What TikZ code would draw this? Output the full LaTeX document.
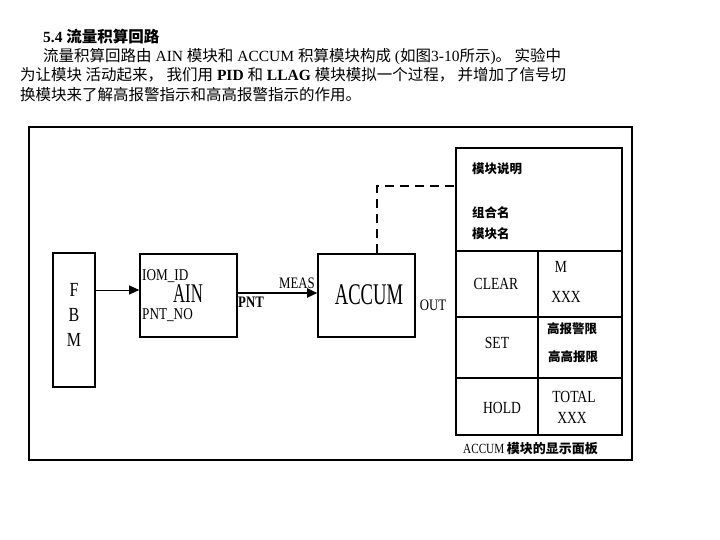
\documentclass[tikz,border=0pt]{standalone}
\usepackage{fontspec}
\usetikzlibrary{arrows.meta}
\setmainfont{Liberation Serif}
\newfontfamily\zh{Noto Sans CJK SC}
\newfontfamily\labfont[FakeStretch=0.8]{Liberation Serif}
\newfontfamily\accfont[FakeStretch=0.62]{Liberation Serif}
\tikzset{
  txt/.style={anchor=base west, inner sep=0pt, font=\fontsize{15.5}{18}\selectfont},
  blk/.style={draw, line width=1.6pt, inner sep=0pt},
  frame/.style={line width=2.6pt},
  lab/.style={inner sep=0pt, font=\labfont\fontsize{16.5}{18}\selectfont},
  biglab/.style={inner sep=0pt, font=\accfont\fontsize{30}{32}\selectfont},
  cell/.style={inner sep=0pt, font=\labfont\fontsize{17}{18}\selectfont},
  zhcell/.style={inner sep=0pt, font=\zh\bfseries\fontsize{12.5}{14}\selectfont},
  sig/.style={-{Triangle[length=10pt,width=9pt]}, line width=0.8pt},
  dashline/.style={line width=1.8pt, dash pattern=on 9pt off 6pt},
}

\begin{document}
\begin{tikzpicture}[x=1pt, y=-1pt]
\useasboundingbox (0,0) rectangle (720,540);

%% ---- header text -------------------------------------------------------
\node[txt, font=\bfseries\fontsize{15.5}{18}\selectfont] (title) at (43,43)
  {5.4 {\zh\bfseries 流量积算回路}};
\node[txt] (line1) at (43,62)
  {{\zh 流量积算回路由} AIN {\zh 模块和} ACCUM {\zh 积算模块构成} ({\zh 如图}3-10{\zh 所示}){\zh 。 实验中}};
\node[txt] (line2) at (20,81)
  {{\zh 为让模块 活动起来， 我们用} \textbf{PID} {\zh 和} \textbf{LLAG} {\zh 模块模拟一个过程， 并增加了信号切}};
\node[txt] (line3) at (20,101)
  {{\zh 换模块来了解高报警指示和高高报警指示的作用。}};

%% ---- outer frame -------------------------------------------------------
\draw[frame] (29,127) rectangle (632,460);

%% ---- blocks ------------------------------------------------------------
\node[blk, minimum width=42pt, minimum height=134pt] (fbm) at (74,320) {};
\node[align=center, inner sep=0pt, font=\labfont\fontsize{20}{25}\selectfont]
  (fbmtxt) at (74,315) {F\\B\\M};
\node[blk, minimum width=97pt, minimum height=83pt] (ain) at (188.5,295.5) {};
\node[blk, minimum width=97pt, minimum height=83pt] (accum) at (366.5,295.5) {};

\node[lab, anchor=west] (iomid) at (142,276) {IOM\_ID};
\node[biglab, font=\accfont\fontsize{27}{30}\selectfont] (aintxt) at (188,294) {AIN};
\node[lab, anchor=west] (pntno) at (142,315) {PNT\_NO};
\node[biglab] (acctxt) at (369,295) {ACCUM};

% signal links
\draw[sig] ([yshift=30pt]fbm.east) -- ([yshift=30pt]fbm.east -| ain.west);
\draw[sig, line width=2pt] ([yshift=2.5pt]ain.east) -- ([yshift=2.5pt]ain.east -| accum.west);
\node[lab, font=\labfont\fontsize{16}{18}\selectfont] (meas) at (297,283) {MEAS};
\node[lab, font=\labfont\bfseries\fontsize{16}{18}\selectfont] (pnt) at (251,302) {PNT};
\node[lab, font=\labfont\fontsize{16}{18}\selectfont] (out) at (433,305) {OUT};

%% ---- display panel -----------------------------------------------------
\node[draw, line width=1.8pt, minimum width=166pt, minimum height=287pt,
  inner sep=0pt] (panel) at (539,291.5) {};
\foreach \y in {251,317,378}
  \draw[line width=1.4pt] (panel.west |- 0,\y) -- (panel.east |- 0,\y);
\draw[line width=1.4pt] (538,251) -- (panel.south -| 538,0);
\coordinate (tap) at (panel.west |- 0,186);
\draw[dashline] ([xshift=10.5pt]accum.north) |- (tap);

\node[zhcell, anchor=west] (desc) at (472,169) {模块说明};
\node[zhcell, anchor=west] (grp) at (472,213) {组合名};
\node[zhcell, anchor=west] (blkname) at (472,234) {模块名};

\foreach \t/\x/\y in {CLEAR/496/284, M/561/267, XXX/566/297, SET/497/343,
    HOLD/502/408, TOTAL/574/397, XXX/572/418}
  \node[cell] at (\x,\y) {\t};
\node[zhcell] (hi) at (572,329) {高报警限};
\node[zhcell] (hihi) at (573,357) {高高报限};

\node[inner sep=0pt, anchor=west] (caption) at (463,449)
  {{\labfont\fontsize{14}{16}\selectfont ACCUM} {\zh\bfseries\fontsize{13}{16}\selectfont 模块的显示面板}};

\end{tikzpicture}
\end{document}
